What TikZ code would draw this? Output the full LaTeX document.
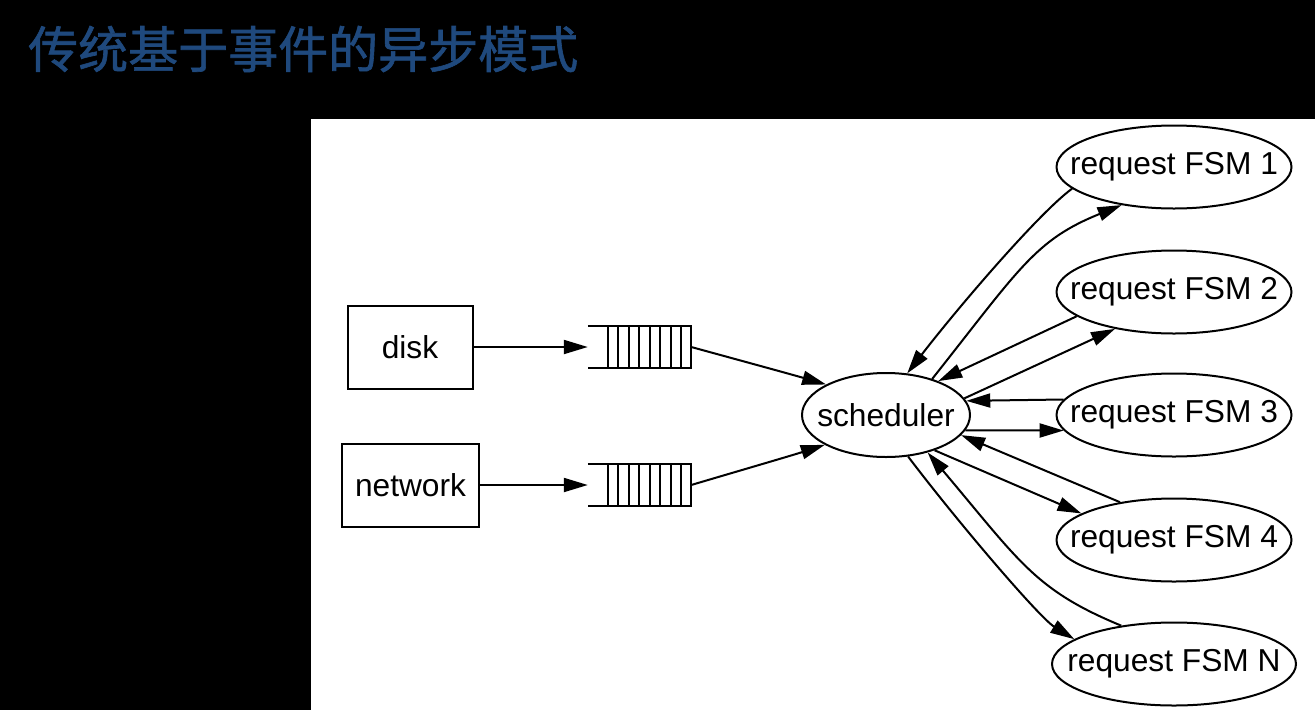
\documentclass[tikz,border=0pt]{standalone}
\usepackage{fontspec}
\setmainfont{Liberation Sans}
\newfontfamily\cjkfont[FakeBold=1.2]{Noto Sans CJK SC}
\usetikzlibrary{shapes.geometric,arrows.meta,calc}
\definecolor{titleblue}{HTML}{1F497D}
\newcommand{\zw}[1]{\makebox[0pt]{#1}}
\begin{document}
\begin{tikzpicture}[x=1pt,y=-1pt,
  lbl/.style={font=\fontsize{31.7}{38}\selectfont},
  box/.style={draw, line width=2pt, rectangle, inner sep=0pt, lbl},
  oval/.style={draw, line width=2pt, ellipse, inner sep=0pt, lbl, minimum width=235pt, minimum height=83pt},
  queue/.style={rectangle, inner sep=0pt, minimum width=103pt, minimum height=41pt},
  qline/.style={line width=2pt},
  edge/.style={line width=2pt, -{Triangle[length=24pt,width=14pt]}}
]
\useasboundingbox (0,0) rectangle (1315,710);
\fill[black] (0,0) rectangle (1315,710);
\fill[white] (311,119) rectangle (1315,710);

\node[anchor=west, inner sep=0pt, text=titleblue, font=\cjkfont\fontsize{50}{60}\selectfont] (title) at (28,49) {传统基于事件的异步模式};

% sources
\node[box, minimum width=125pt, minimum height=83pt] (disk) at (410,347) {disk};
\node[box, minimum width=137pt, minimum height=83pt] (network) at (410.5,485) {network};

% queues
\node[queue] (q1) at (639.5,347) {};
\node[queue] (q2) at (639.5,485) {};
\foreach \q in {q1,q2}{
  \draw[qline] (\q.north west) -- (\q.north east) -- (\q.south east) -- (\q.south west);
  \foreach \k in {0,...,7}
    \draw[qline] ($(\q.north west)+(20+\k*10.46,0)$) -- ($(\q.south west)+(20+\k*10.46,0)$);
}

% scheduler and FSMs
\node[oval, minimum width=168pt, minimum height=84pt] (sched) at (886,415) {\zw{scheduler}};
\node[oval] (f1) at (1174,167) {\zw{request FSM 1}};
\node[oval] (f2) at (1174,292) {\zw{request FSM 2}};
\node[oval] (f3) at (1174,415) {\zw{request FSM 3}};
\node[oval] (f4) at (1174,540) {\zw{request FSM 4}};
\node[oval, minimum width=244pt] (fn) at (1174,664) {\zw{request FSM N}};

% source edges
\draw[edge] (disk.east) -- (q1.west);
\draw[edge] (network.east) -- (q2.west);
\draw[edge] (q1.east) .. controls (735,359) and (790,374) .. (sched.153.8);
\draw[edge] (q2.east) .. controls (735,472) and (790,456) .. (sched.206.9);

% scheduler <-> FSMs
\draw[edge] (f1.192.7) .. controls (1040,212) and (960,305) .. (sched.63.4);
\draw[edge] (sched.38.5) .. controls (1020,268) and (1035,240) .. (f1.216.7);
\draw[edge] (f2.194.9) -- (sched.33.9);
\draw[edge] (sched.12.8) -- (f2.212.7);
\draw[edge] (f3.172.2) -- (sched.10.4);
\draw[edge] (sched.-11.2) -- (f3.188.9);
\draw[edge] (f4.145.8) -- (sched.-15.9);
\draw[edge] (sched.-36.0) -- (f4.164.8);
\draw[edge] (fn.144.2) .. controls (1035,590) and (1020,562) .. (sched.-42.1);
\draw[edge] (sched.-62.4) .. controls (960,525) and (1040,618) .. (fn.166.8);
\end{tikzpicture}
\end{document}
